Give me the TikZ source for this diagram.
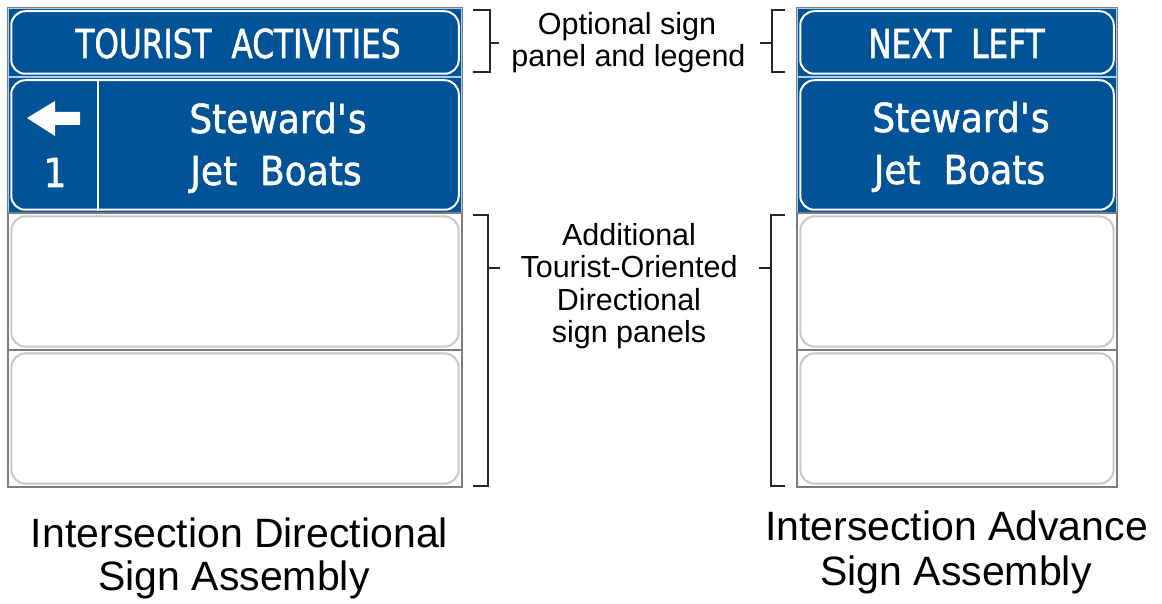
\documentclass[tikz,border=0pt]{standalone}
\usepackage{fontspec}
\setmainfont{Liberation Sans}
\newfontfamily\signfont[FakeStretch=0.9, FakeBold=1.3]{DejaVu Sans}
\newfontfamily\signcaps[FakeStretch=0.78, FakeBold=1.3]{DejaVu Sans}
\definecolor{signblue}{RGB}{0,83,150}
\definecolor{seamblue}{RGB}{175,205,232}
\definecolor{rimgray}{RGB}{200,200,200}
\definecolor{edgegray}{RGB}{125,125,125}
\begin{document}
\begin{tikzpicture}[x=1pt, y=-1pt,
    bluepanel/.style={shape=rectangle, fill=signblue, draw=seamblue, line width=1.5pt, inner sep=0},
    blankpanel/.style={shape=rectangle, fill=white, draw=edgegray, line width=1.2pt, inner sep=0},
    whiterim/.style={draw=white, line width=2pt, rounded corners=14pt},
    grayrim/.style={draw=rimgray, line width=2pt, rounded corners=14pt},
    signtext/.style={text=white, inner sep=0, anchor=base, font=\signfont\fontsize{40}{44}\selectfont},
    notetext/.style={inner sep=0, anchor=base, font=\fontsize{30.5}{32}\selectfont},
    captiontext/.style={inner sep=0, anchor=base, font=\fontsize{41}{44}\selectfont},
    bracket/.style={line width=1.5pt, black!85}]
	\useasboundingbox (0,0) rectangle (1162,604);
	\node[bluepanel, minimum width=454pt, minimum height=69pt] (lpa) at (235, 42.5){};
	\node[bluepanel, minimum width=454pt, minimum height=136pt] (lpb) at (235, 145){};
	\node[blankpanel, minimum width=454pt, minimum height=137pt] (lpc) at (235, 281.5){};
	\node[blankpanel, minimum width=454pt, minimum height=137pt] (lpd) at (235, 418.5){};
	\node[bluepanel, minimum width=320pt, minimum height=69pt] (rpa) at (957, 42.5){};
	\node[bluepanel, minimum width=320pt, minimum height=136pt] (rpb) at (957, 145){};
	\node[blankpanel, minimum width=320pt, minimum height=137pt] (rpc) at (957, 281.5){};
	\node[blankpanel, minimum width=320pt, minimum height=137pt] (rpd) at (957, 418.5){};
	\foreach \p in {lpa, lpb, rpa, rpb}
	    \draw[whiterim] ([shift={(4,4)}]\p.north west) rectangle ([shift={(-4,-4)}]\p.south east);
	\foreach \p in {lpc, lpd, rpc, rpd}
	    \draw[grayrim] ([shift={(4,4)}]\p.north west) rectangle ([shift={(-4,-4)}]\p.south east);
	\draw[edgegray, line width=1.2pt] (lpa.north west) rectangle (lpd.south east);
	\draw[edgegray, line width=1.2pt] (rpa.north west) rectangle (rpd.south east);
	\draw[white, line width=2pt] (98, 79) -- (98, 211);
	\fill[white] (27, 118) -- (55, 101) -- (55, 112) -- (80, 112) -- (80, 125) -- (55, 125) -- (55, 136) -- cycle;
	\node[signtext] (one) at (55, 187) {1};
	\node[signtext, font=\signcaps\fontsize{40}{44}\selectfont] (tour) at (238, 58) {TOURIST~~ACTIVITIES};
	\node[signtext] (lste) at (278, 133) {Steward\textquotesingle s};
	\node[signtext] (ljet) at (276, 185) {Jet~~Boats};
	\node[signtext, font=\signcaps\fontsize{40}{44}\selectfont] (next) at (956.5, 58) {NEXT~~LEFT};
	\node[signtext] (rste) at (961, 132) {Steward\textquotesingle s};
	\node[signtext] (rjet) at (959.5, 184) {Jet~~Boats};
	\draw[bracket] (473, 10) -- (490, 10) -- (490, 72) -- (473, 72);
	\draw[bracket] (490, 43) -- (499, 43);
	\draw[bracket] (785, 10) -- (772, 10) -- (772, 72) -- (785, 72);
	\draw[bracket] (772, 43) -- (760, 43);
	\draw[bracket] (473, 215) -- (488, 215) -- (488, 486) -- (473, 486);
	\draw[bracket] (488, 268) -- (500, 268);
	\draw[bracket] (785, 215) -- (771, 215) -- (771, 486) -- (785, 486);
	\draw[bracket] (771, 268) -- (759, 268);
    \node[notetext] (opta) at (627, 35) {Optional sign};
    \node[notetext] (optb) at (628.5, 67) {panel and legend};
    \node[notetext] (adda) at (629, 245) {Additional};
    \node[notetext] (addb) at (629, 277) {Tourist-Oriented};
    \node[notetext] (addc) at (629, 310) {Directional};
    \node[notetext] (addd) at (629, 342) {sign panels};
    \node[captiontext] (lcapa) at (239.5, 547) {Intersection Directional};
    \node[captiontext] (lcapb) at (234, 590) {Sign Assembly};
    \node[captiontext] (rcapa) at (956.5, 540) {Intersection Advance};
    \node[captiontext] (rcapb) at (956, 585) {Sign Assembly};
\end{tikzpicture}
\end{document}
